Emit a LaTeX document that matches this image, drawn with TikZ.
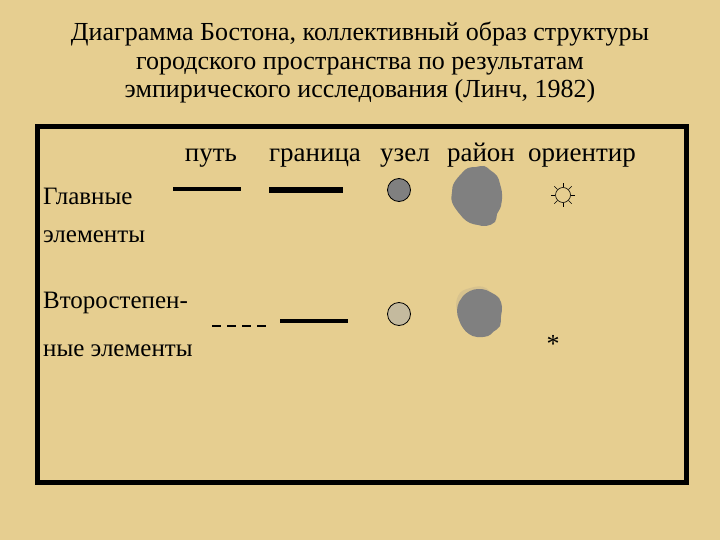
\documentclass[tikz,border=0pt]{standalone}
\usepackage{fontspec}
\setmainfont{Liberation Serif}
\usetikzlibrary{positioning}
\definecolor{parchment}{RGB}{230,206,144}
\definecolor{blobgray}{RGB}{128,128,128}
\definecolor{palenode}{RGB}{196,186,158}
\tikzset{
    title text/.style={align=center, font=\fontsize{26}{28.5}\selectfont},
    head label/.style={font=\fontsize{27}{30}\selectfont, anchor=base},
    row label/.style={font=\fontsize{25}{30}\selectfont, anchor=base west, inner sep=0pt},
    path line/.style={line width=4.5pt},
    edge line/.style={line width=6.5pt},
    minor path/.style={line width=2pt, dash pattern=on 9pt off 6pt},
    node dot/.style={circle, draw=black, thick, minimum size=23pt, inner sep=0pt},
    district/.style={fill=blobgray}
}
\begin{document}
\begin{tikzpicture}[x=1pt, y=-1pt]
	\fill[parchment] (0,0) rectangle (720,540);
	\useasboundingbox (0,0) rectangle (720,540);
	\node[title text, anchor=base] (title) at (360,98)
		{Диаграмма Бостона, коллективный образ структуры\\
		 городского пространства по результатам\\
		 эмпирического исследования (Линч, 1982)};
	\draw[line width=5pt] (37,127) rectangle (686,482);
	\begin{scope}[every node/.style={head label}]
		\node (put) at (211,162) {путь};
		\node (granica) at (315,162) {граница};
		\node (uzel) at (405,162) {узел};
		\node (rayon) at (481,162) {район};
		\node (orient) at (582,162) {ориентир};
	\end{scope}
	\node[row label] (main1) at (43,205) {Главные};
	\node[row label] (main2) at (43,243) {элементы};
	\node[row label] (minor1) at (43,308) {Второстепен-};
	\node[row label] (minor2) at (43,356) {ные элементы};
	\coordinate (p1a) at (173,189);
	\coordinate (p1b) at (241,189);
	\coordinate (g1a) at (269,190);
	\coordinate (g1b) at (343,190);
	\coordinate (p2a) at (212,326);
	\coordinate (p2b) at (270,326);
	\coordinate (g2a) at (280,321);
	\coordinate (g2b) at (348,321);
	\draw[path line] (p1a) -- (p1b);
	\draw[edge line] (g1a) -- (g1b);
	\draw[minor path] (p2a) -- (p2b);
	\draw[path line] (g2a) -- (g2b);
	\node[node dot, fill=blobgray] (uzel1) at (399,190) {};
	\node[node dot, fill=palenode] (uzel2) at (399,314) {};
	\fill[district] plot[smooth cycle, tension=0.7] coordinates {
		(462,173) (468,168) (476,167) (484,166) (490,170) (497,176)
		(500,184) (502,194) (501,206) (497,214) (495,222) (486,226)
		(478,225) (470,223) (463,218) (458,212) (452,202) (452,192)
		(454,183)};
	\fill[parchment!85!gray] plot[smooth cycle, tension=0.8] coordinates {
		(458,296) (470,288) (486,288) (490,300) (470,306) (458,312)};
	\fill[district] plot[smooth cycle, tension=0.7] coordinates {
		(463,296) (470,291) (478,289) (486,290) (492,293) (499,298)
		(502,307) (501,316) (500,326) (493,332) (488,336) (477,337)
		(469,334) (463,328) (459,320) (457,311) (459,302)};
	\node[circle, draw, semithick, minimum size=15pt, inner sep=0pt] (sun) at (563,195) {};
	\foreach \a in {0,45,...,315}
		\draw[semithick] (sun.\a) -- ++(\a:4.5pt);
	\node[font=\fontsize{26}{28}\selectfont] (star) at (553,344) {*};
\end{tikzpicture}
\end{document}
